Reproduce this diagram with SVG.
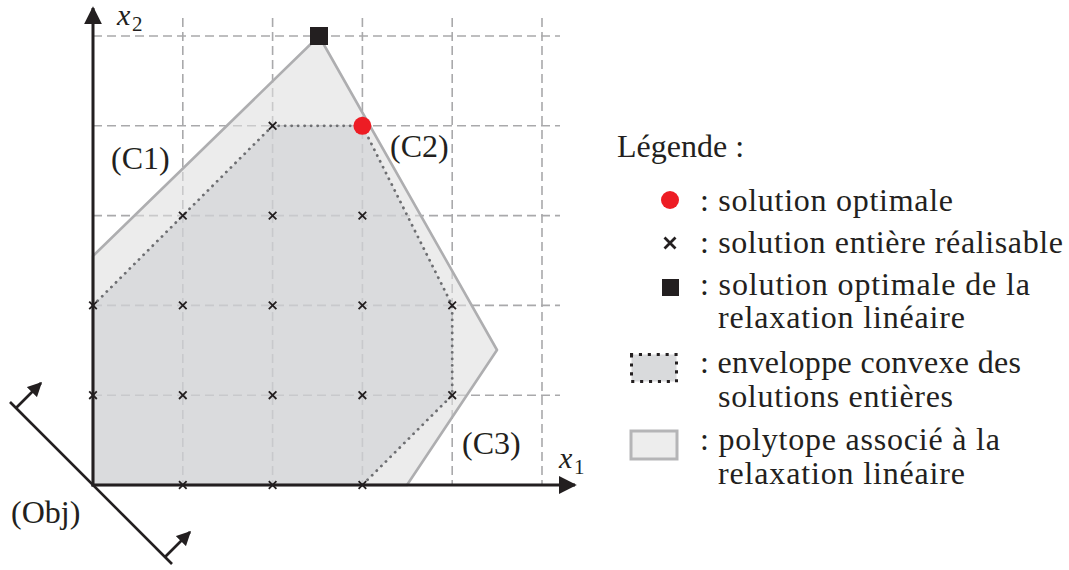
<svg xmlns="http://www.w3.org/2000/svg" width="1069" height="570" viewBox="0 0 1069 570">
<defs>
<style>
.grid{stroke:#a9a9ab;stroke-width:1.6;stroke-dasharray:9 5;fill:none}
.poly{fill:#e0e0e0;fill-opacity:0.6;stroke:#aeaeb0;stroke-width:2.6;stroke-linejoin:round}
.hull{fill:#c8c9cd;fill-opacity:0.5;stroke:none}
.hullEdge{fill:none;stroke:#6d6e71;stroke-width:2.8;stroke-dasharray:0.1 6.4;stroke-linecap:round}
.axis{stroke:#231f20;stroke-width:3;fill:none}
.cross{stroke:#231f20;stroke-width:1.8;fill:none}
.t{font-family:"Liberation Serif","Times New Roman",serif;font-size:32px;fill:#231f20}
.ti{font-family:"Liberation Serif","Times New Roman",serif;font-style:italic;font-size:30px;fill:#231f20}
.sub{font-family:"Liberation Serif","Times New Roman",serif;font-size:21px;fill:#231f20}
</style>
<marker id="ah" viewBox="0 0 10 10" refX="9" refY="5" markerWidth="6" markerHeight="6" markerUnits="strokeWidth" orient="auto">
<path d="M0,0 L10,5 L0,10 Z" fill="#231f20"/>
</marker>
<marker id="ahs" viewBox="0 0 10 10" refX="9" refY="5" markerWidth="5.5" markerHeight="5.5" markerUnits="strokeWidth" orient="auto">
<path d="M0,0 L10,5 L0,10 Z" fill="#231f20"/>
</marker>
<g id="xm"><path class="cross" d="M-3.8,-3.8 L3.8,3.8 M-3.8,3.8 L3.8,-3.8"/></g>
</defs>
<rect width="1069" height="570" fill="#ffffff"/>

<g id="grid">
<path class="grid" d="M182.8,18 V485 M272.6,18 V485 M362.4,18 V485 M452.2,18 V485 M542,18 V485"/>
<path class="grid" d="M93,36 H560 M93,125.8 H560 M93,215.6 H560 M93,305.4 H560 M93,395.2 H560"/>
</g>

<g id="polytope">
<polygon class="poly" points="93,485 93,256 319,36 497,350 407,485"/>
</g>

<g id="hull">
<polygon class="hull" points="93,485 93,305.4 272.6,125.8 362.4,125.8 452.2,305.4 452.2,395.2 362.4,485"/>
<polyline class="hullEdge" points="93,305.4 272.6,125.8 362.4,125.8 452.2,305.4 452.2,395.2 362.4,485"/>
</g>

<g id="connectors">
<line class="axis" x1="93" y1="486.5" x2="93" y2="8" marker-end="url(#ah)"/>
<line class="axis" x1="91.5" y1="485" x2="575" y2="485" marker-end="url(#ah)"/>
<line x1="10" y1="402" x2="172" y2="564" stroke="#231f20" stroke-width="2.6"/>
<line x1="16" y1="408" x2="41" y2="383" stroke="#231f20" stroke-width="2.6" marker-end="url(#ahs)"/>
<line x1="165" y1="557" x2="190" y2="532" stroke="#231f20" stroke-width="2.6" marker-end="url(#ahs)"/>
</g>

<g id="integer-points">
<use href="#xm" x="182.8" y="485"/><use href="#xm" x="272.6" y="485"/><use href="#xm" x="362.4" y="485"/>
<use href="#xm" x="93" y="395.2"/><use href="#xm" x="182.8" y="395.2"/><use href="#xm" x="272.6" y="395.2"/><use href="#xm" x="362.4" y="395.2"/><use href="#xm" x="452.2" y="395.2"/>
<use href="#xm" x="93" y="305.4"/><use href="#xm" x="182.8" y="305.4"/><use href="#xm" x="272.6" y="305.4"/><use href="#xm" x="362.4" y="305.4"/><use href="#xm" x="452.2" y="305.4"/>
<use href="#xm" x="182.8" y="215.6"/><use href="#xm" x="272.6" y="215.6"/><use href="#xm" x="362.4" y="215.6"/>
<use href="#xm" x="272.6" y="125.8"/>
</g>

<g id="relax-optimum"><rect x="310" y="27" width="18" height="18" fill="#231f20"/></g>
<g id="optimum"><circle cx="362.4" cy="125.8" r="9" fill="#ed1c24"/></g>

<g id="labels">
<text class="ti" x="117" y="25">x</text><text class="sub" x="132" y="31">2</text>
<text class="ti" x="559" y="468">x</text><text class="sub" x="574" y="474">1</text>
<text class="t" x="111" y="169">(C1)</text>
<text class="t" x="390" y="157">(C2)</text>
<text class="t" x="462" y="454">(C3)</text>
<text class="t" x="11" y="523">(Obj)</text>
</g>

<g id="legend">
<text class="t" x="617" y="157">Légende :</text>
<circle cx="670" cy="200" r="9" fill="#ed1c24"/>
<text class="t" x="700" y="211" textLength="253" lengthAdjust="spacing">: solution optimale</text>
<path d="M664.5,237.5 L675.5,248.5 M664.5,248.5 L675.5,237.5" stroke="#231f20" stroke-width="2.8"/>
<text class="t" x="700" y="253" textLength="363" lengthAdjust="spacing">: solution entière réalisable</text>
<rect x="662" y="279" width="17" height="17" fill="#231f20"/>
<text class="t" x="700" y="295" textLength="330" lengthAdjust="spacing">: solution optimale de la</text>
<text class="t" x="718" y="328" textLength="247" lengthAdjust="spacing">relaxation linéaire</text>
<rect x="631.5" y="354.5" width="45" height="27" fill="#d9dadc" stroke="#231f20" stroke-width="3" stroke-dasharray="0.1 8.8" stroke-linecap="square"/>
<text class="t" x="700" y="373" textLength="321" lengthAdjust="spacing">: enveloppe convexe des</text>
<text class="t" x="718" y="407" textLength="235" lengthAdjust="spacing">solutions entières</text>
<rect x="631" y="431" width="46" height="28" fill="#ededed" stroke="#b5b5b7" stroke-width="3"/>
<text class="t" x="700" y="450" textLength="300" lengthAdjust="spacing">: polytope associé à la</text>
<text class="t" x="718" y="484" textLength="247" lengthAdjust="spacing">relaxation linéaire</text>
</g>
</svg>
